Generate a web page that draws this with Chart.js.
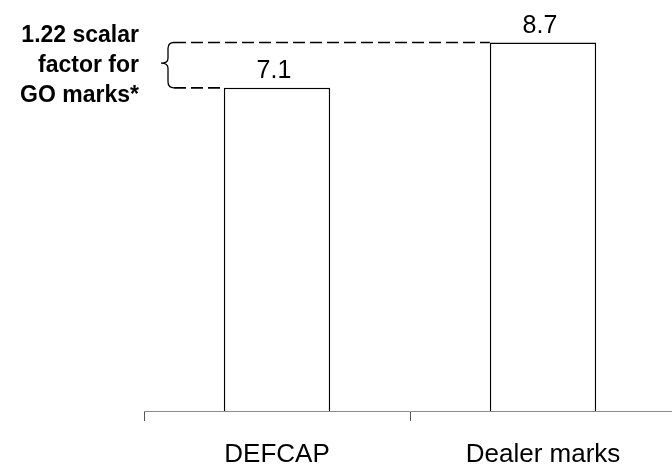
<!DOCTYPE html>
<html lang="en">
<head>
  <meta charset="UTF-8" />
  <title>DEFCAP vs Dealer marks</title>
  <script src="https://cdn.jsdelivr.net/npm/chart.js"></script>
  <style>
    html, body {
      margin: 0;
      padding: 0;
      background: #fff;
      overflow: hidden;
    }
    canvas {
      display: block;
    }
  </style>
</head>
<body>
  <canvas id="marksChart" width="680" height="471"></canvas>

  <script>
    const categories = ["DEFCAP", "Dealer marks"];
    const values = [7.1, 8.7];
    const valueLabels = ["7.1", "8.7"];
    const noteLines = ["1.22 scalar", "factor for", "GO marks*"];

    // value axis range (the original drawing does not start at zero)
    const Y_MIN = -4.3;
    const Y_MAX = 10.2;

    const FONT = "'Liberation Sans', Arial, sans-serif";

    const annotations = {
      id: "annotations",
      afterDatasetsDraw(chart) {
        const ctx = chart.ctx;
        const y = chart.scales.y;
        const meta = chart.getDatasetMeta(0);

        ctx.save();
        ctx.fillStyle = "#000";

        // value labels above the bars
        ctx.font = "25px " + FONT;
        ctx.textAlign = "center";
        ctx.textBaseline = "alphabetic";
        meta.data.forEach((bar, i) => {
          ctx.fillText(valueLabels[i], bar.x - 3, y.getPixelForValue(values[i]) - 10);
        });

        // dashed bracket between the two bar tops
        const topY = y.getPixelForValue(values[1]);
        const lowY = y.getPixelForValue(values[0]);
        const bar0 = meta.data[0];
        const bar1 = meta.data[1];
        const left0 = bar0.x - bar0.width / 2;
        const left1 = bar1.x - bar1.width / 2;
        const bx = 168;

        ctx.strokeStyle = "#000";
        ctx.lineWidth = 1.6;
        ctx.setLineDash([12, 5]);
        ctx.beginPath();
        ctx.moveTo(bx + 6, topY);
        ctx.lineTo(left1, topY);
        ctx.moveTo(bx + 6, lowY);
        ctx.lineTo(left0, lowY);
        ctx.stroke();

        // curly brace
        ctx.setLineDash([]);
        ctx.lineWidth = 1.3;
        const mid = (topY + lowY) / 2 - 2;
        ctx.beginPath();
        ctx.moveTo(bx + 6, topY);
        ctx.quadraticCurveTo(bx, topY, bx, topY + 6);
        ctx.lineTo(bx, mid - 5);
        ctx.quadraticCurveTo(bx, mid, bx - 7, mid);
        ctx.quadraticCurveTo(bx, mid, bx, mid + 5);
        ctx.lineTo(bx, lowY - 6);
        ctx.quadraticCurveTo(bx, lowY, bx + 6, lowY);
        ctx.stroke();

        // note text
        ctx.font = "bold 23px " + FONT;
        ctx.textAlign = "right";
        ctx.textBaseline = "middle";
        noteLines.forEach((line, i) => {
          ctx.fillText(line, 139, 36 + i * 30);
        });

        ctx.restore();
      }
    };

    new Chart(document.getElementById("marksChart"), {
      type: "bar",
      data: {
        labels: categories,
        datasets: [{
          data: values,
          base: Y_MIN,
          backgroundColor: "#ffffff",
          borderColor: "#000000",
          borderWidth: 1.5,
          barPercentage: 0.4,
          categoryPercentage: 1
        }]
      },
      options: {
        responsive: false,
        animation: false,
        layout: {
          padding: { left: 144, right: 4, top: 0, bottom: 0 }
        },
        plugins: {
          legend: { display: false },
          tooltip: { enabled: false }
        },
        scales: {
          x: {
            offset: true,
            afterFit(scale) {
              scale.height = 60;
            },
            border: { display: true, color: "#8a8a8a", width: 1 },
            grid: {
              offset: true,
              drawOnChartArea: false,
              drawTicks: true,
              tickLength: 10,
              color: "#555"
            },
            ticks: {
              color: "#000",
              padding: 18,
              font: { family: FONT, size: 26 }
            }
          },
          y: {
            display: false,
            min: Y_MIN,
            max: Y_MAX
          }
        }
      },
      plugins: [annotations]
    });
  </script>
</body>
</html>
